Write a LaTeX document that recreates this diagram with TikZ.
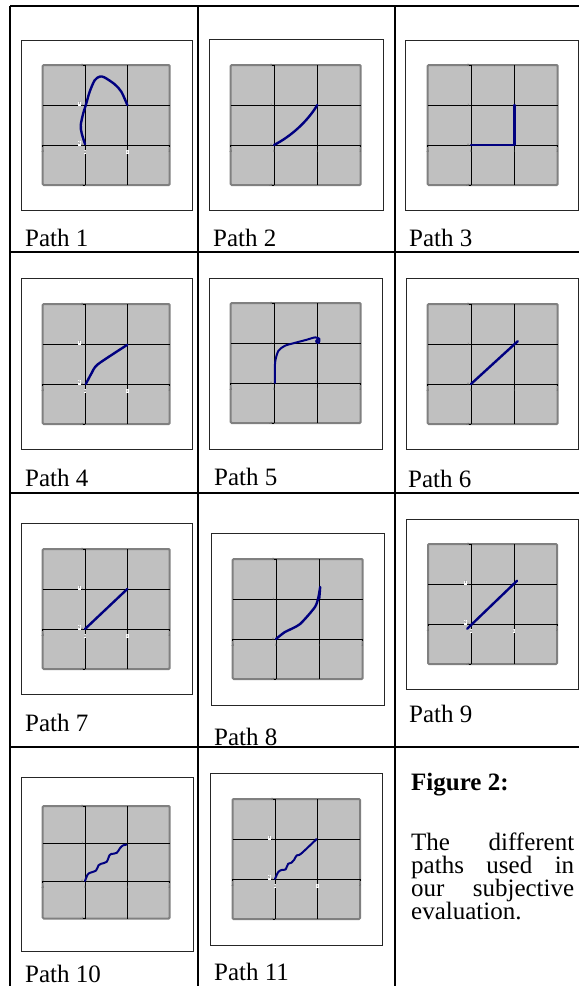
\documentclass[tikz,border=0pt]{standalone}
\usepackage{fontspec}
\setmainfont{Liberation Serif}
\definecolor{PanelFill}{HTML}{C0C0C0}
\definecolor{PanelEdge}{HTML}{808080}
\definecolor{PathNavy}{HTML}{000080}
\definecolor{TickGray}{HTML}{505050}

% one gray chart, drawn in its own data units (-1..2 on both axes)
\newcommand{\panelgrid}{%
  \draw[panel] (-1,-1) rectangle (2,2);
  \draw[gridln] (1,-1) -- (1,2) (-1,1) -- (2,1) (-1,0) -- (2,0) (0,-1) -- (0,2);
  \foreach \t in {-1,0,1,2}{
    \draw[gridln] (\t,0) -- ++(0,-2pt);
    \draw[gridln] (0,\t) -- ++(-2pt,0);
    \node[ticklbl] (xt\t) at (\t,-0.17) {\t};
    \node[ticklbl,anchor=east] (yt\t) at (-0.03,\t) {\t};
  }
}
% white data tags at the start and end points
\newcommand{\pointtags}{%
  \node[tagbox] (ty1) at (-0.13,1.03) {1};
  \node[tagbox] (ty0) at (-0.13,0.04) {0};
  \node[tagbox] (tx0) at (0,-0.18) {0};
  \node[tagbox] (tx1) at (1,-0.18) {1};
}

\begin{document}
\begin{tikzpicture}[
    x=1pt,y=-1pt,
    rule/.style={draw=black, line width=2pt},
    frame/.style={draw=black!85, line width=1pt},
    panel/.style={draw=PanelEdge, fill=PanelFill, line width=2pt, rounded corners=1pt},
    gridln/.style={draw=black, line width=0.9pt},
    ticklbl/.style={font=\fontsize{3.5}{4}\selectfont, text=TickGray, inner sep=0.4pt},
    tagbox/.style={fill=white, font=\fontsize{3.5}{4}\selectfont, inner sep=0.5pt, minimum width=2.6pt, minimum height=4.2pt},
    trace/.style={draw=PathNavy, line width=2.4pt, line cap=round, line join=round},
    caption/.style={anchor=base west, inner sep=0pt, font=\fontsize{25}{28}\selectfont}
  ]
    \useasboundingbox (0,0) rectangle (579,986);

    % table rules
    \draw[rule] (10,6) -- (579,6);
    \foreach \yy in {252,493,747}{\draw[rule] (10,\yy) -- (579,\yy);}
    \foreach \xx in {10,198,395}{\draw[rule] (\xx,6) -- (\xx,986);}

    % row 1
    \draw[frame] (21,40) rectangle (192,210);
    \begin{scope}[shift={(85,145)},x=42.3pt,y=40pt]
      \panelgrid \pointtags
      \draw[trace] plot[smooth] coordinates {(0,0.02) (-0.08,0.3) (-0.1,0.5) (-0.04,0.8) (0.02,1.0) (0.11,1.33) (0.23,1.62) (0.35,1.71) (0.46,1.69) (0.7,1.52) (0.86,1.33) (1,1)};
    \end{scope}
    \node[caption] (p1) at (25,246) {Path 1};

    \draw[frame] (209,39) rectangle (383,210);
    \begin{scope}[shift={(274,145)},x=43.3pt,y=40pt]
      \panelgrid
      \draw[trace] (0,0) .. controls (0.4,0.22) and (0.78,0.6) .. (1,1);
    \end{scope}
    \node[caption] (p2) at (213,246) {Path 2};

    \draw[frame] (405,40) rectangle (578,210);
    \begin{scope}[shift={(471,145)},x=43.3pt,y=40pt]
      \panelgrid
      \draw[trace] (0,0) -- (1,0) -- (1,1);
    \end{scope}
    \node[caption] (p3) at (409,246) {Path 3};

    % row 2
    \draw[frame] (21,278) rectangle (192,449);
    \begin{scope}[shift={(85,384)},x=42.3pt,y=40pt]
      \panelgrid \pointtags
      \draw[trace] plot[smooth,tension=0.4] coordinates {(0.02,0) (0.15,0.26) (0.3,0.49) (1,0.98)};
    \end{scope}
    \node[caption] (p4) at (25,486) {Path 4};

    \draw[frame] (209,278) rectangle (382,449);
    \begin{scope}[shift={(274,383)},x=43.3pt,y=40pt]
      \panelgrid
      \draw[trace,line width=2pt] plot[smooth] coordinates {(0.02,0) (0.02,0.3) (0.03,0.55) (0.1,0.8) (0.25,0.93) (0.47,1.0) (0.75,1.08) (0.95,1.14) (1.05,1.1) (1.03,1.0) (0.97,1.04) (1.02,1.1)};
    \end{scope}
    \node[caption] (p5) at (214,485) {Path 5};

    \draw[frame] (406,278) rectangle (578,449);
    \begin{scope}[shift={(471,384)},x=43.3pt,y=40pt]
      \panelgrid
      \draw[trace] (0,0) -- (1.08,1.07);
    \end{scope}
    \node[caption] (p6) at (408,487) {Path 6};

    % row 3
    \draw[frame] (21,523) rectangle (192,694);
    \begin{scope}[shift={(85,629)},x=42.3pt,y=40pt]
      \panelgrid \pointtags
      \draw[trace] (0,0) -- (1,1);
    \end{scope}
    \node[caption] (p7) at (25,731) {Path 7};

    \draw[frame] (211,533) rectangle (384,705);
    \begin{scope}[shift={(276,639)},x=43.3pt,y=40pt]
      \panelgrid
      \draw[trace] plot[smooth,tension=0.4] coordinates {(0,0) (0.2,0.17) (0.55,0.37) (0.9,0.8) (0.98,1.05) (1.02,1.3)} -- (1.0,1.02);
    \end{scope}
    \node[caption] (p8) at (214,745) {Path 8};

    \draw[frame] (406,519) rectangle (578,689);
    \begin{scope}[shift={(471,624)},x=43pt,y=40pt]
      \panelgrid \pointtags
      \draw[trace] (-0.09,-0.12) -- (1.07,1.08);
    \end{scope}
    \node[caption] (p9) at (409,722) {Path 9};

    % row 4
    \draw[frame] (21,777) rectangle (193,951);
    \begin{scope}[shift={(85,881)},x=42.3pt,y=37.5pt]
      \panelgrid
      \draw[trace,line width=2pt] plot[smooth,tension=0.5] coordinates {(0,0) (0.06,0.17) (0.1,0.21) (0.26,0.28) (0.32,0.42) (0.38,0.46) (0.51,0.51) (0.58,0.69) (0.62,0.72) (0.75,0.75) (0.83,0.88) (0.9,0.95) (0.98,0.97)};
    \end{scope}
    \node[caption] (p10) at (25,982) {Path 10};

    \draw[frame] (210,773) rectangle (382,945);
    \begin{scope}[shift={(275,879)},x=42.5pt,y=40pt]
      \panelgrid \pointtags
      \draw[trace,line width=2pt] plot[smooth,tension=0.5] coordinates {(0,0) (0.08,0.18) (0.17,0.23) (0.25,0.24) (0.31,0.38) (0.39,0.41) (0.45,0.48) (0.51,0.59) (0.61,0.63) (0.98,1.0)};
    \end{scope}
    \node[caption] (p11) at (214,980) {Path 11};

    % caption cell
    \node[caption,font=\fontsize{25}{28}\selectfont\bfseries] (fig) at (411,790) {Figure 2:};
    \node[caption] (l1) at (411,850) {\hbox to 163pt{The\hfill different}};
    \node[caption] (l2) at (411,873) {\hbox to 163pt{paths\hfill used\hfill in}};
    \node[caption] (l3) at (411,896) {\hbox to 163pt{our\hfill subjective}};
    \node[caption] (l4) at (411,919) {evaluation.};
  \end{tikzpicture}
\end{document}
